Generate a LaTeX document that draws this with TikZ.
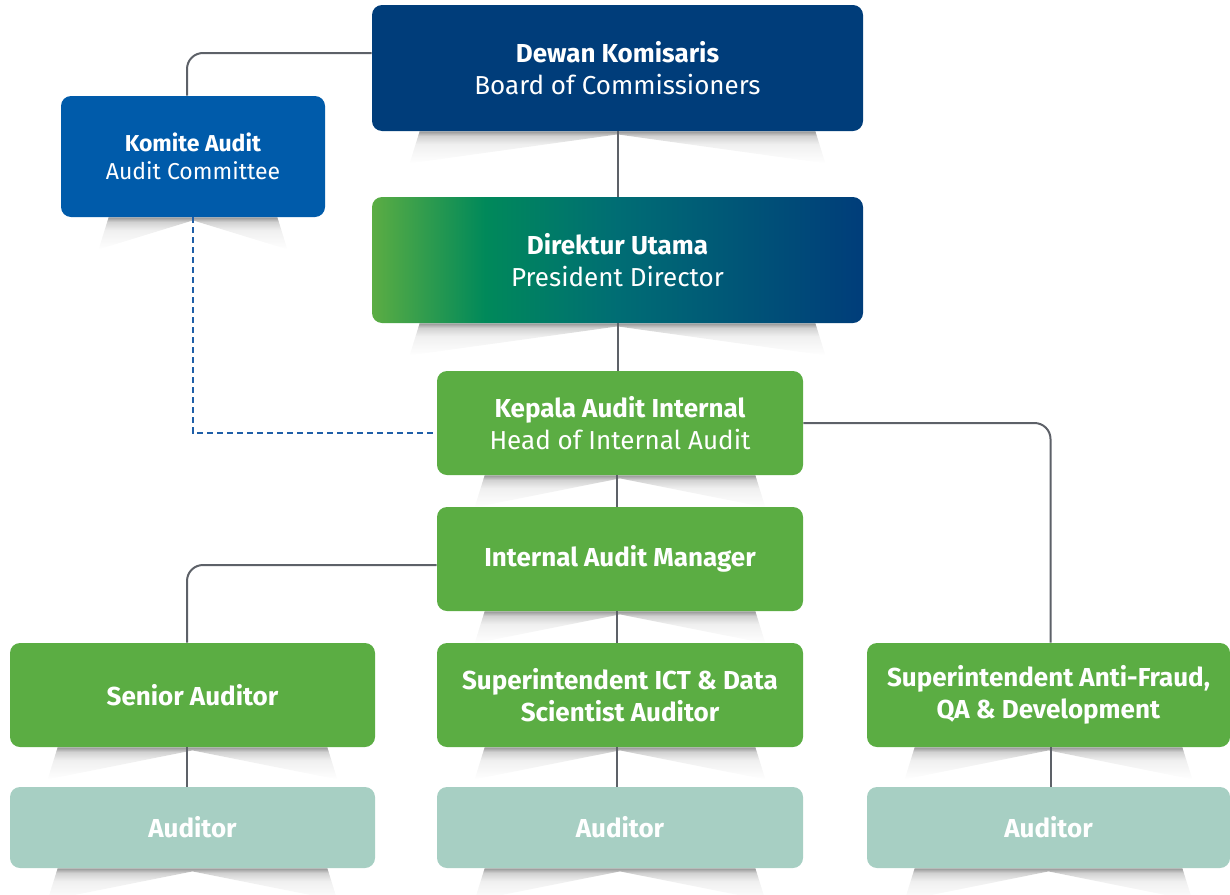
\documentclass[tikz,border=0pt]{standalone}
\usepackage{fontspec}
\setmainfont{Fira Sans}
\usetikzlibrary{calc,positioning,backgrounds}

\definecolor{kNavy}{HTML}{003D7A}
\definecolor{kBlue}{HTML}{005BAA}
\definecolor{kGreen}{HTML}{5BAD43}
\definecolor{kEmerald}{HTML}{00895A}
\definecolor{kTeal}{HTML}{006D74}
\definecolor{kMint}{HTML}{A7CFC3}
\definecolor{kLine}{HTML}{5D6168}
\definecolor{kDash}{HTML}{1F5FA8}

\pgfdeclarehorizontalshading{dirgrad}{100bp}{color(0bp)=(kGreen); color(25bp)=(kGreen);
  color(36.5bp)=(kEmerald); color(50bp)=(kTeal); color(75bp)=(kNavy); color(100bp)=(kNavy)}
\pgfdeclareverticalshading{shadowfade}{100bp}{color(0bp)=(white); color(25bp)=(white);
  color(55bp)=(black!6); color(68bp)=(black!18); color(75bp)=(black!40); color(100bp)=(black!40)}

% lifted-corner shadow under a box
\newcommand{\boxshadow}[1]{%
  \shade[shading=shadowfade]
    ($(#1.south west)+(48,0)$) -- ($(#1.south west)+(38,32)$) -- ($(#1.south)+(0,3)$)
    -- ($(#1.south east)+(-38,32)$) -- ($(#1.south east)+(-48,0)$) -- cycle;}

\begin{document}
\begin{tikzpicture}[x=0.5pt,y=-0.5pt,
    every node/.style={font=\fontsize{13}{16}\selectfont,text=white,align=center},
    orgbox/.style={rounded corners=5pt,inner sep=0pt},
    link/.style={kLine,line width=1pt}]
  \useasboundingbox (0,0) rectangle (1230,894);

  % boards
  \node[orgbox,fill=kNavy,minimum width=245.5pt,minimum height=63pt] (dk) at (617.5,68)
    {\textbf{Dewan Komisaris}\\Board of Commissioners};
  \node[orgbox,fill=kBlue,minimum width=132pt,minimum height=60.5pt,
    font=\fontsize{11.5}{14}\selectfont] (ka) at (193,156.5)
    {\textbf{Komite Audit}\\Audit Committee};
  \node[orgbox,shading=dirgrad,minimum width=245.5pt,minimum height=63pt] (du) at (617.5,260)
    {\textbf{Direktur Utama}\\President Director};

  % internal audit
  \node[orgbox,fill=kGreen,minimum width=183pt,minimum height=52pt] (kai) at (620,423)
    {\textbf{Kepala Audit Internal}\\Head of Internal Audit};
  \node[orgbox,fill=kGreen,minimum width=183pt,minimum height=52pt] (iam) at (620,559)
    {\textbf{Internal Audit Manager}};
  \node[orgbox,fill=kGreen,minimum width=182.5pt,minimum height=52pt] (sa) at (192.5,695)
    {\textbf{Senior Auditor}};
  \node[orgbox,fill=kGreen,minimum width=183pt,minimum height=52pt] (sict) at (620,695)
    {\textbf{Superintendent ICT \& Data}\\\textbf{Scientist Auditor}};
  \node[orgbox,fill=kGreen,minimum width=181.5pt,minimum height=52pt] (saf) at (1048.5,695)
    {\textbf{Superintendent Anti-Fraud,}\\\textbf{QA \& Development}};

  % auditors
  \node[orgbox,fill=kMint,minimum width=182.5pt,minimum height=40.5pt] (a1) at (192.5,827.5)
    {\textbf{Auditor}};
  \node[orgbox,fill=kMint,minimum width=183pt,minimum height=40.5pt] (a2) at (620,827.5)
    {\textbf{Auditor}};
  \node[orgbox,fill=kMint,minimum width=181.5pt,minimum height=40.5pt] (a3) at (1048.5,827.5)
    {\textbf{Auditor}};

  \begin{scope}[on background layer]
    \foreach \n in {dk,ka,du,kai,iam,sa,sict,saf,a1,a2,a3} {\boxshadow{\n}}
  \end{scope}

  % connectors
  \draw[link,rounded corners=8pt] ([yshift=7.5pt]dk.west) -| ([xshift=-3pt]ka.north);
  \draw[link] (dk.south) -- (du.north);
  \draw[link] (du.south) -- (du.south |- kai.north);
  \draw[link,rounded corners=8pt] (kai.east) -| ([xshift=1pt]saf.north);
  \draw[link] ([xshift=-1.5pt]kai.south) -- ([xshift=-1.5pt]iam.north);
  \draw[link,rounded corners=8pt] ([yshift=-3pt]iam.west) -| ([xshift=-2.75pt]sa.north);
  \draw[link] ([xshift=-1.5pt]iam.south) -- ([xshift=-1.5pt]sict.north);
  \draw[link] ([xshift=-2.75pt]sa.south) -- ([xshift=-2.75pt]a1.north);
  \draw[link] ([xshift=-1.5pt]sict.south) -- ([xshift=-1.5pt]a2.north);
  \draw[link] ([xshift=1pt]saf.south) -- ([xshift=1pt]a3.north);
  \draw[kDash,line width=1.3pt,dash pattern=on 3pt off 2pt] (ka.south) |- ([yshift=-5pt]kai.west);
\end{tikzpicture}
\end{document}
